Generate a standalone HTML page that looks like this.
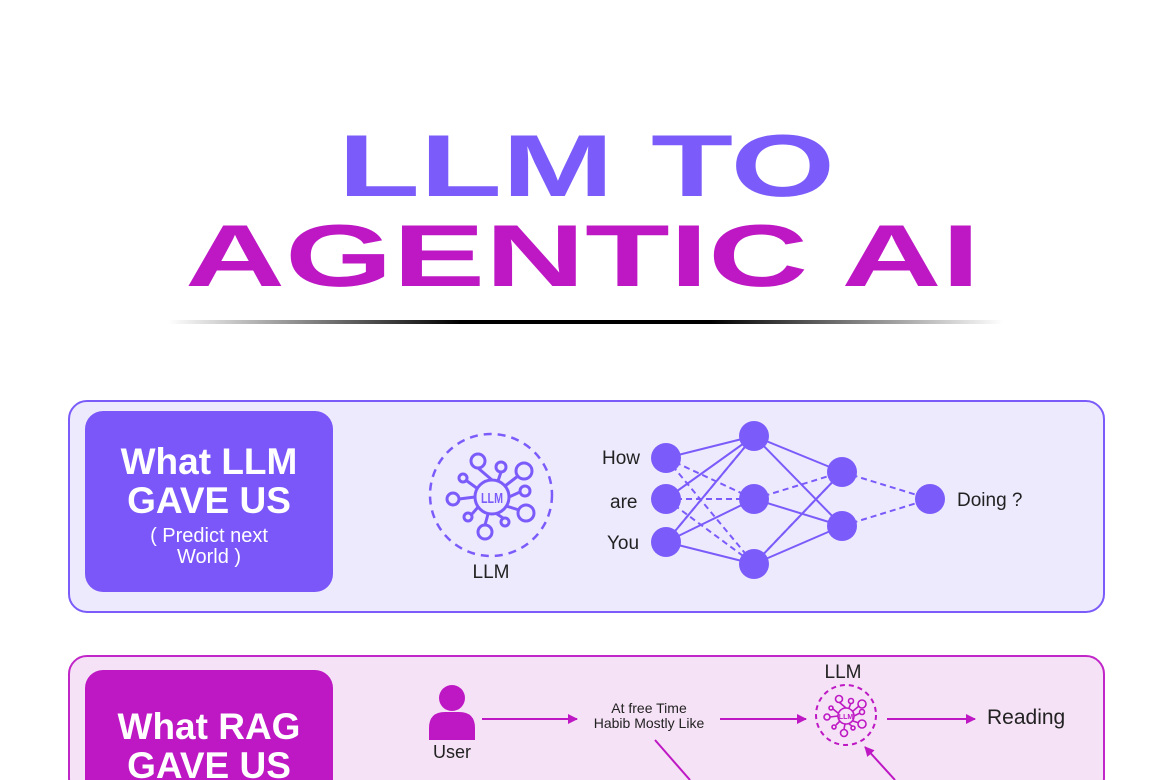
<!DOCTYPE html>
<html><head><meta charset="utf-8"><style>
html,body{margin:0;padding:0;background:#fff;}
svg{display:block;font-family:"Liberation Sans",sans-serif;}
</style></head><body>
<svg width="1170" height="780" viewBox="0 0 1170 780" xmlns="http://www.w3.org/2000/svg">
<defs>
<linearGradient id="ln" x1="0" x2="1" y1="0" y2="0">
<stop offset="0" stop-color="#000" stop-opacity="0"/>
<stop offset="0.35" stop-color="#000"/>
<stop offset="0.65" stop-color="#000"/>
<stop offset="1" stop-color="#000" stop-opacity="0"/>
</linearGradient>
<marker id="ah" markerWidth="10" markerHeight="10" refX="9" refY="5" orient="auto" markerUnits="userSpaceOnUse"><path d="M0,0 L10,5 L0,10 Z" fill="#bd18c4"/></marker>
</defs>
<rect width="1170" height="780" fill="#fff"/>
<!-- Title -->
<text x="338" y="196" font-size="88" font-weight="bold" fill="#7b5cfa" textLength="497" lengthAdjust="spacingAndGlyphs">LLM TO</text>
<text x="185" y="286" font-size="88" font-weight="bold" fill="#bd18c4" textLength="795" lengthAdjust="spacingAndGlyphs">AGENTIC AI</text>
<rect x="168" y="320" width="835" height="4" fill="url(#ln)"/>

<!-- Box 1 -->
<rect x="69" y="401" width="1035" height="211" rx="18" fill="#eeeafe" stroke="#7b5cfa" stroke-width="2"/>
<rect x="85" y="411" width="248" height="181" rx="18" fill="#7b57f9"/>
<g fill="#fff" text-anchor="middle">
<text x="209" y="474" font-size="37" font-weight="bold">What LLM</text>
<text x="209" y="513" font-size="37" font-weight="bold">GAVE US</text>
<text x="209" y="542" font-size="20">( Predict next</text>
<text x="209" y="563" font-size="20">World )</text>
</g>
<!-- LLM icon -->
<g stroke="#7b5cfa" stroke-width="3" fill="none">
<circle cx="491" cy="495" r="61" stroke-dasharray="8 6" stroke-width="2.5"/>
<circle cx="492" cy="497" r="17"/>
<path d="M492,480 L478,468 M498,481 L501,472 M505,486 L518,476 M478,489 L467,481 M475,497 L459,499 M509,497 L520,492 M506,506 L519,510 M479,506 L472,514 M497,514 L503,518 M488,514 L485,525"/>
<circle cx="478" cy="461" r="7"/><circle cx="501" cy="467" r="5"/><circle cx="524" cy="471" r="8"/>
<circle cx="463" cy="478" r="4"/><circle cx="453" cy="499" r="6"/><circle cx="525" cy="491" r="5"/>
<circle cx="526" cy="513" r="8"/><circle cx="468" cy="517" r="4"/><circle cx="505" cy="522" r="4"/><circle cx="485" cy="532" r="7"/>
</g>
<text x="492" y="503" font-size="15" font-weight="bold" fill="#7b5cfa" text-anchor="middle" textLength="22" lengthAdjust="spacingAndGlyphs">LLM</text>
<text x="491" y="578" font-size="19" fill="#222" text-anchor="middle">LLM</text>

<!-- Neural net -->
<g stroke="#7b5cfa" stroke-width="2">
<path d="M666,458 L754,436 M666,499 L754,436 M666,542 L754,436 M666,542 L754,499 M666,542 L754,564 M754,436 L842,472 M754,436 L842,526 M754,499 L842,526 M754,564 L842,526 M754,564 L842,472"/>
<path stroke-dasharray="6 4" d="M666,458 L754,499 M666,458 L754,564 M666,499 L754,499 M666,499 L754,564 M666,542 L754,436 M754,499 L842,472 M754,564 L842,472 M842,472 L930,499 M842,526 L930,499"/>
</g>
<g fill="#7b5cfa">
<circle cx="666" cy="458" r="15"/><circle cx="666" cy="499" r="15"/><circle cx="666" cy="542" r="15"/>
<circle cx="754" cy="436" r="15"/><circle cx="754" cy="499" r="15"/><circle cx="754" cy="564" r="15"/>
<circle cx="842" cy="472" r="15"/><circle cx="842" cy="526" r="15"/><circle cx="930" cy="499" r="15"/>
</g>
<g font-size="19" fill="#222">
<text x="602" y="464">How</text>
<text x="610" y="508">are</text>
<text x="607" y="549">You</text>
<text x="957" y="506">Doing ?</text>
</g>

<!-- Box 2 -->
<rect x="69" y="656" width="1035" height="140" rx="18" fill="#f6e2f6" stroke="#c026c8" stroke-width="2"/>
<rect x="85" y="670" width="248" height="130" rx="18" fill="#bd18c4"/>
<g fill="#fff" text-anchor="middle">
<text x="209" y="739" font-size="37" font-weight="bold">What RAG</text>
<text x="209" y="778" font-size="37" font-weight="bold">GAVE US</text>
</g>
<!-- User -->
<circle cx="452" cy="698" r="13" fill="#bd18c4"/>
<path d="M429,740 L429,728 Q429,712 445,712 L459,712 Q475,712 475,728 L475,740 Z" fill="#bd18c4"/>
<text x="452" y="758" font-size="18" fill="#222" text-anchor="middle">User</text>
<g stroke="#bd18c4" stroke-width="2" fill="none" marker-end="url(#ah)">
<path d="M482,719 L577,719"/>
<path d="M720,719 L806,719"/>
<path d="M887,719 L975,719"/>
<path d="M895,780 L865,747"/>
</g>
<path d="M655,740 L690,780" stroke="#bd18c4" stroke-width="2"/>
<g font-size="14" fill="#222" text-anchor="middle">
<text x="649" y="713">At free Time</text>
<text x="649" y="728">Habib Mostly Like</text>
</g>
<text x="843" y="678" font-size="19" fill="#222" text-anchor="middle">LLM</text>
<g stroke="#bd18c4" stroke-width="1.6" fill="none">
<circle cx="846" cy="715" r="30" stroke-dasharray="5 4" stroke-width="2"/>
<circle cx="846" cy="716" r="8"/>
<path d="M846,708 L839,702 M849,708 L851,703 M853,711 L859,706 M838,713 L833,709 M838,716 L830,717 M854,716 L860,713 M853,721 L859,723 M840,721 L836,725 M849,724 L852,726 M845,724 L844,729"/>
<circle cx="839" cy="699" r="3.5"/><circle cx="851" cy="701" r="2.5"/><circle cx="862" cy="704" r="4"/>
<circle cx="831" cy="708" r="2"/><circle cx="827" cy="717" r="3"/><circle cx="862" cy="712" r="2.5"/>
<circle cx="862" cy="724" r="4"/><circle cx="834" cy="727" r="2"/><circle cx="853" cy="728" r="2"/><circle cx="844" cy="733" r="3.5"/>
</g>
<text x="846" y="719" font-size="7" font-weight="bold" fill="#bd18c4" text-anchor="middle">LLM</text>
<text x="987" y="724" font-size="21" fill="#222">Reading</text>
</svg>
</body></html>
